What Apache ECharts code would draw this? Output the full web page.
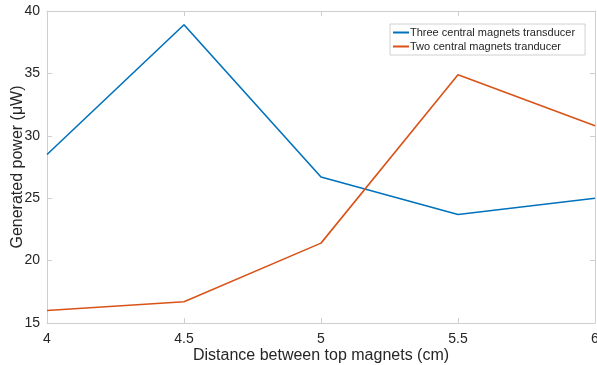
<!DOCTYPE html>
<html><head><meta charset="utf-8">
<script src="https://cdn.jsdelivr.net/npm/echarts@6/dist/echarts.min.js"></script>
<style>html,body{margin:0;padding:0;background:#fff}#c{width:597px;height:365px}</style>
</head><body><div id="c"></div>
<script>
const distances = [4, 4.5, 5, 5.5, 6];
const threeMagnets = [28.5, 38.9, 26.7, 23.7, 25.0];
const twoMagnets = [16.0, 16.7, 21.4, 34.9, 30.8];
const seriesNames = ['Three central magnets transducer', 'Two central magnets tranducer'];
const xTitle = 'Distance between top magnets (cm)';
const yTitle = 'Generated power (μW)';

const font = 'Liberation Sans, Arial, Helvetica, sans-serif';
const axisCol = '#cfcfcf';
const textCol = '#262626';
const chart = echarts.init(document.getElementById('c'), null, {renderer: 'canvas'});
const baseAxis = {
  axisLine: {show: true, lineStyle: {color: axisCol, width: 1}},
  axisTick: {show: true, inside: true, length: 5, lineStyle: {color: axisCol}},
  splitLine: {show: false}
};
chart.setOption({
  animation: false,
  grid: {left: 47, right: 2, top: 11, bottom: 42, containLabel: false, outerBoundsMode: 'none'},
  legend: {
    orient: 'vertical', left: 390, top: 24, width: 198,
    data: seriesNames,
    itemWidth: 16, itemHeight: 2, itemGap: 3,
    icon: 'rect',
    borderColor: '#d0d0d0', borderWidth: 1, padding: [3, 10, 3, 3],
    backgroundColor: '#fff',
    textStyle: {fontFamily: font, fontSize: 11, color: textCol, padding: [0, 0, 0, -4]}
  },
  xAxis: [
    Object.assign({}, baseAxis, {
      type: 'value', min: 4, max: 6, interval: 0.5, position: 'bottom',
      name: xTitle, nameLocation: 'middle', nameGap: 25, nameMoveOverlap: false,
      nameTextStyle: {fontFamily: font, fontSize: 16, color: textCol},
      axisLabel: {fontFamily: font, fontSize: 14, color: textCol, margin: 9}
    }),
    Object.assign({}, baseAxis, {
      type: 'value', min: 4, max: 6, interval: 0.5, position: 'top',
      axisLabel: {show: false}
    })
  ],
  yAxis: [
    Object.assign({}, baseAxis, {
      type: 'value', min: 15, max: 40, interval: 5, position: 'left',
      name: yTitle, nameLocation: 'middle', nameGap: 21, nameMoveOverlap: false,
      nameTextStyle: {fontFamily: font, fontSize: 16, color: textCol},
      axisLabel: {fontFamily: font, fontSize: 14, color: textCol, margin: 7}
    }),
    Object.assign({}, baseAxis, {
      type: 'value', min: 15, max: 40, interval: 5, position: 'right',
      axisLabel: {show: false}
    })
  ],
  series: [
    {name: seriesNames[0], type: 'line', showSymbol: false, symbol: 'none',
     data: distances.map((d, i) => [d, threeMagnets[i]]),
     lineStyle: {color: '#0072BD', width: 1.6}, itemStyle: {color: '#0072BD'}},
    {name: seriesNames[1], type: 'line', showSymbol: false, symbol: 'none',
     data: distances.map((d, i) => [d, twoMagnets[i]]),
     lineStyle: {color: '#D95319', width: 1.6}, itemStyle: {color: '#D95319'}}
  ]
});
</script></body></html>
